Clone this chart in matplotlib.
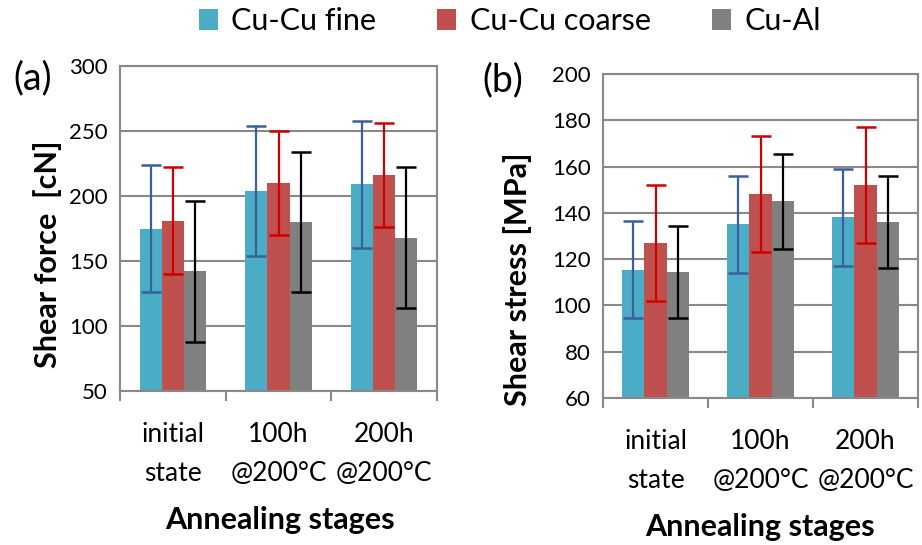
import matplotlib
matplotlib.use("Agg")
import matplotlib.pyplot as plt
import numpy as np

plt.rcParams['font.family'] = ['Lato', 'DejaVu Sans']

stages = ["initial\nstate", "100h\n@200°C", "200h\n@200°C"]
series = ["Cu-Cu fine", "Cu-Cu coarse", "Cu-Al"]

force_fine = [175, 204, 209]
force_fine_err = [49, 50, 49]
force_coarse = [181, 210, 216]
force_coarse_err = [41, 40, 40]
force_al = [142, 180, 168]
force_al_err = [54, 54, 54]

stress_fine = [115.5, 135, 138]
stress_fine_err = [21, 21, 21]
stress_coarse = [127, 148, 152]
stress_coarse_err = [25, 25, 25]
stress_al = [114.5, 145, 136]
stress_al_err = [20, 20.5, 20]

bar_colors = ["#4BACC6", "#C0504D", "#808080"]
err_colors = ["#3A5F9A", "#CC0000", "#000000"]
grid_gray = "#898989"

W, H = 922, 545
fig = plt.figure(figsize=(W / 100, H / 100), dpi=100)


def px_axes(left, top, right, bottom):
    return fig.add_axes([left / W, 1 - bottom / H, (right - left) / W, (bottom - top) / H])


def draw_panel(ax, data, errs, ylim, yticks, ylabel, ylab_xy, xlab_xy):
    x = np.arange(len(stages))
    width = 0.21
    offsets = [-width, 0, width]
    handles = []
    for vals, err, off, c, ec, name in zip(data, errs, offsets, bar_colors, err_colors, series):
        b = ax.bar(x + off, vals, width, color=c, label=name, zorder=2)
        ax.errorbar(x + off, vals, yerr=err, fmt="none", ecolor=ec, elinewidth=1.6,
                    capsize=7, capthick=1.8, zorder=3)
        handles.append(b)
    ax.set_xlim(-0.5, len(stages) - 0.5)
    ax.set_ylim(*ylim)
    ax.set_yticks(yticks)
    ax.tick_params(axis="y", length=0, pad=9, labelsize=16)
    ax.set_xticks(x)
    ax.set_xticklabels(stages, fontsize=19, linespacing=1.7)
    ax.set_xticks(np.arange(len(stages) + 1) - 0.5, minor=True)
    ax.tick_params(axis="x", which="major", length=0, pad=22)
    ax.tick_params(axis="x", which="minor", length=7.5, width=1.5, color=grid_gray)
    ax.yaxis.grid(True, color=grid_gray, linewidth=1.5)
    ax.set_axisbelow(True)
    for s in ax.spines.values():
        s.set_color(grid_gray)
        s.set_linewidth(1.5)
    ax.set_ylabel(ylabel, fontsize=22, fontweight="bold", va="center")
    ax.yaxis.set_label_coords(*ylab_xy)
    ax.set_xlabel("Annealing stages", fontsize=22, fontweight="bold", va="center")
    ax.xaxis.set_label_coords(*xlab_xy)
    return handles


ax_a = px_axes(120, 66, 437, 391)
handles = draw_panel(ax_a,
                     [force_fine, force_coarse, force_al],
                     [force_fine_err, force_coarse_err, force_al_err],
                     (50, 300), np.arange(50, 301, 50),
                     "Shear force  [cN]", (-0.230, 0.42), (0.505, -0.397))

ax_b = px_axes(603, 74, 918, 398)
draw_panel(ax_b,
           [stress_fine, stress_coarse, stress_al],
           [stress_fine_err, stress_coarse_err, stress_al_err],
           (60, 200), np.arange(60, 201, 20),
           "Shear stress [MPa]", (-0.270, 0.367), (0.498, -0.398))

fig.text(33 / W, 1 - 78 / H, "(a)", fontsize=27, ha="center", va="center")
fig.text(503 / W, 1 - 80 / H, "(b)", fontsize=27, ha="center", va="center")

fig.legend(handles, series, loc="center", bbox_to_anchor=(510 / W, 1 - 21 / H),
           ncol=3, frameon=False, fontsize=22, handlelength=0.62, handleheight=0.7,
           handletextpad=0.45, columnspacing=2.0, borderaxespad=0, borderpad=0)

fig.savefig("out.png", dpi=100)
